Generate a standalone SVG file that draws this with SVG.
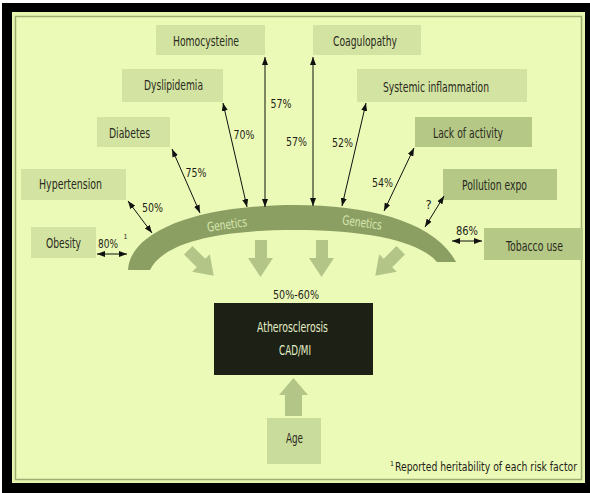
<svg xmlns="http://www.w3.org/2000/svg" width="590" height="493" viewBox="0 0 590 493">
<style>
text{font-family:"Liberation Sans Narrow","DejaVu Sans Condensed","Liberation Sans",Arial,sans-serif;font-size:13.5px;fill:#2a2a20;text-anchor:middle}
.light{fill:#D3E4A2}
.dark{fill:#B5C886}
.pct{font-size:13px;fill:#1e1e18}
.big{fill:#B3C688}
.gen{fill:#D6E6AE;font-size:13px}
.cad{fill:#E3EDC6;font-size:13.5px}
.thin{stroke:#111;stroke-width:1;fill:none;marker-start:url(#ah);marker-end:url(#ah)}
</style>
<defs>
<marker id="ah" viewBox="0 0 8 6" refX="8" refY="3" markerWidth="8" markerHeight="6" markerUnits="userSpaceOnUse" orient="auto-start-reverse">
<path d="M0,0 L8,3 L0,6 Z" fill="#111"/>
</marker>
<path id="bigArrow" d="M-6,-18 H6 V0 H12.5 L0,18 L-12.5,0 H-6 Z"/>
</defs>
<rect x="0" y="0" width="590" height="493" fill="#ffffff"/>
<rect x="2" y="3" width="588" height="490" fill="#000"/>
<rect x="12" y="12" width="573" height="471" fill="#E6F6B0"/>
<rect x="15.5" y="16.5" width="566" height="463" fill="#ECFAB7" stroke="#9CAF70" stroke-width="1.5"/>

<g id="arch">
<path d="M128,270 C130,232 195,205 295,205 C370,205 435,222 456,262 L437,262 C420,242 370,230 295,230 C210,230 162,245 150,270 Z" fill="#8C9F63"/>
<text class="gen" x="227" y="229" textLength="40" lengthAdjust="spacingAndGlyphs" transform="rotate(-8 227 225)">Genetics</text>
<text class="gen" x="362" y="227" textLength="40" lengthAdjust="spacingAndGlyphs" transform="rotate(8 362 223)">Genetics</text>
</g>

<g id="big-arrows">
<use href="#bigArrow" class="big" transform="translate(201,263) rotate(-45)"/>
<path class="big" d="M255,240 H267 V258 H273 L260.5,277 L248,258 H255 Z"/>
<path class="big" d="M316,240 H328 V258 H334 L321.5,277 L309,258 H316 Z"/>
<use href="#bigArrow" class="big" transform="translate(388,263) rotate(45)"/>
<path class="big" d="M285,395 V416 H302 V395 H308 L293.5,378 L279,395 Z"/>
</g>

<g id="homocysteine"><rect class="light" x="156" y="25" width="109" height="30"/><text x="206" y="46" textLength="66" lengthAdjust="spacingAndGlyphs">Homocysteine</text></g>
<g id="coagulopathy"><rect class="light" x="313" y="25" width="108" height="30"/><text x="365" y="46" textLength="64" lengthAdjust="spacingAndGlyphs">Coagulopathy</text></g>
<g id="dyslipidemia"><rect class="light" x="122" y="69" width="101" height="33"/><text x="173.5" y="90" textLength="59" lengthAdjust="spacingAndGlyphs">Dyslipidemia</text></g>
<g id="systemic"><rect class="light" x="357" y="69" width="170" height="33"/><text x="436" y="92" textLength="106" lengthAdjust="spacingAndGlyphs">Systemic inflammation</text></g>
<g id="diabetes"><rect class="light" x="97" y="117" width="73" height="30"/><text x="129.5" y="138" textLength="41" lengthAdjust="spacingAndGlyphs">Diabetes</text></g>
<g id="lack"><rect class="dark" x="415" y="117" width="117" height="30"/><text x="468" y="138" textLength="70" lengthAdjust="spacingAndGlyphs">Lack of activity</text></g>
<g id="hypertension"><rect class="light" x="21" y="169" width="105" height="31"/><text x="70.5" y="189" textLength="63" lengthAdjust="spacingAndGlyphs">Hypertension</text></g>
<g id="pollution"><rect class="dark" x="443" y="169" width="114" height="31"/><text x="494.5" y="190" textLength="65" lengthAdjust="spacingAndGlyphs">Pollution expo</text></g>
<g id="obesity"><rect class="light" x="31" y="227" width="65" height="31"/><text x="63.5" y="248" textLength="35" lengthAdjust="spacingAndGlyphs">Obesity</text></g>
<g id="tobacco"><rect class="dark" x="484" y="228" width="99" height="32"/><text x="534.5" y="251" textLength="57" lengthAdjust="spacingAndGlyphs">Tobacco use</text></g>
<g id="cad"><rect x="214" y="303" width="159" height="72" fill="#1D2015"/><text class="cad" x="292.5" y="332" textLength="71" lengthAdjust="spacingAndGlyphs">Atherosclerosis</text><text class="cad" x="295" y="355" textLength="32" lengthAdjust="spacingAndGlyphs">CAD/MI</text></g>
<g id="age"><rect x="267" y="418" width="54" height="46" fill="#CADC9C"/><text x="294.5" y="443" textLength="17" lengthAdjust="spacingAndGlyphs">Age</text></g>

<g id="connectors">
<line class="thin" x1="97" y1="254" x2="127" y2="254"/>
<line class="thin" x1="128" y1="201" x2="152" y2="233"/>
<line class="thin" x1="172" y1="149" x2="200" y2="213"/>
<line class="thin" x1="223" y1="103" x2="247" y2="207"/>
<line class="thin" x1="265" y1="57" x2="265" y2="207"/>
<line class="thin" x1="313" y1="57" x2="313" y2="206"/>
<line class="thin" x1="366" y1="103" x2="342" y2="206"/>
<line class="thin" x1="414" y1="148" x2="384" y2="211"/>
<line class="thin" x1="444" y1="196" x2="425" y2="227"/>
<line class="thin" x1="452" y1="241" x2="482" y2="241"/>
</g>

<g id="labels">
<text class="pct" x="118" y="248" style="text-anchor:end" textLength="20" lengthAdjust="spacingAndGlyphs">80%</text>
<text class="pct" x="123.5" y="238.5" style="text-anchor:start;font-size:7px">1</text>
<text class="pct" x="152.5" y="212" textLength="21" lengthAdjust="spacingAndGlyphs">50%</text>
<text class="pct" x="196" y="177" textLength="21" lengthAdjust="spacingAndGlyphs">75%</text>
<text class="pct" x="244" y="139" textLength="21" lengthAdjust="spacingAndGlyphs">70%</text>
<text class="pct" x="281" y="108" textLength="21" lengthAdjust="spacingAndGlyphs">57%</text>
<text class="pct" x="296.5" y="146" textLength="21" lengthAdjust="spacingAndGlyphs">57%</text>
<text class="pct" x="342.5" y="147" textLength="21" lengthAdjust="spacingAndGlyphs">52%</text>
<text class="pct" x="382.5" y="187" textLength="21" lengthAdjust="spacingAndGlyphs">54%</text>
<text class="pct" x="428.5" y="209">?</text>
<text class="pct" x="467" y="235" textLength="22" lengthAdjust="spacingAndGlyphs">86%</text>
<text class="pct" x="296" y="299" textLength="46" lengthAdjust="spacingAndGlyphs">50%-60%</text>
<text class="pct" x="390" y="466" style="text-anchor:start;font-size:7px">1</text>
<text class="pct" x="577" y="471" style="text-anchor:end;font-size:11.5px" textLength="182" lengthAdjust="spacingAndGlyphs">Reported heritability of each risk factor</text>
</g>
</svg>
